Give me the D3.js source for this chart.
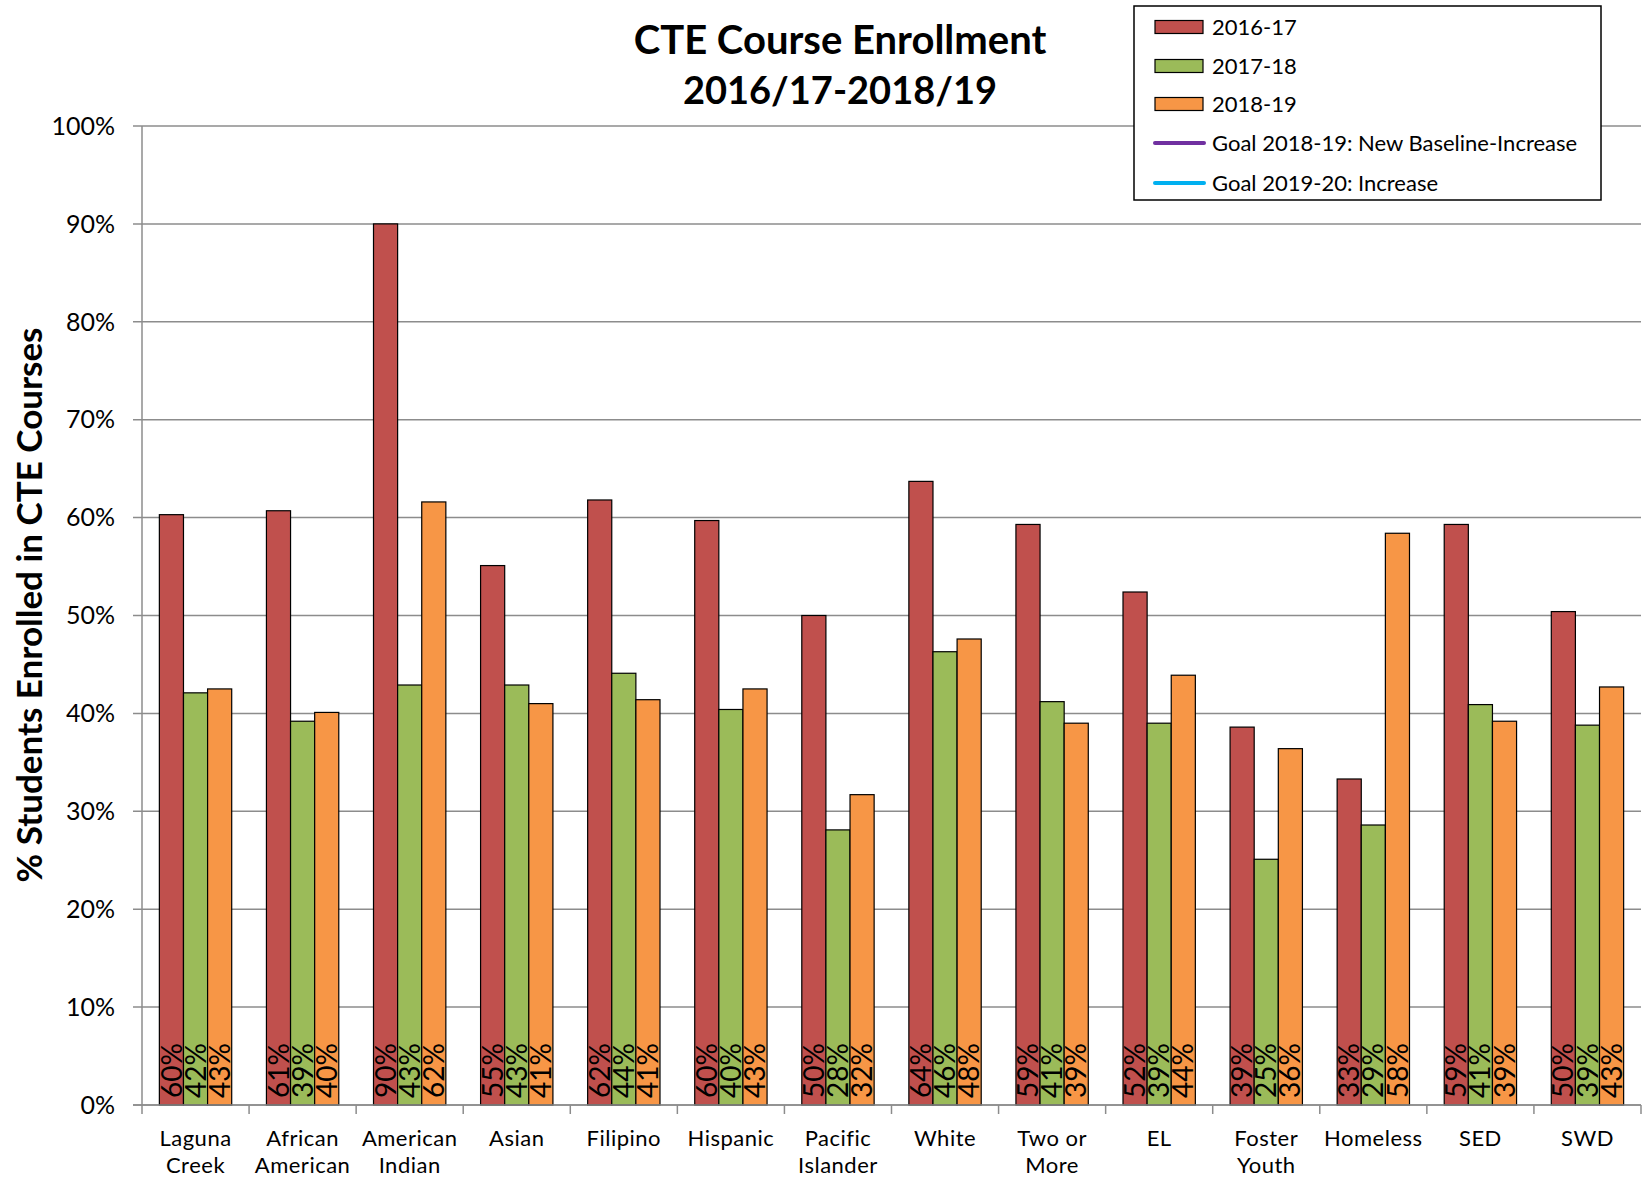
<!DOCTYPE html>
<html>
<head>
<meta charset="utf-8">
<script src="https://cdn.jsdelivr.net/npm/d3@7"></script>
<style>
  body { margin: 0; background: #fff; }
  text { font-family: Lato, "Open Sans", sans-serif; fill: #000; }
</style>
</head>
<body>
<div id="chart"></div>
<script>
// categories and series values (percent)
const categories = [
  ["Laguna", "Creek"], ["African", "American"], ["American", "Indian"], ["Asian"],
  ["Filipino"], ["Hispanic"], ["Pacific", "Islander"], ["White"], ["Two or", "More"],
  ["EL"], ["Foster", "Youth"], ["Homeless"], ["SED"], ["SWD"]
];
const seriesNames = ["2016-17", "2017-18", "2018-19"];
const values2016 = [60.3, 60.7, 90.0, 55.1, 61.8, 59.7, 50.0, 63.7, 59.3, 52.4, 38.6, 33.3, 59.3, 50.4];
const values2017 = [42.1, 39.2, 42.9, 42.9, 44.1, 40.4, 28.1, 46.3, 41.2, 39.0, 25.1, 28.6, 40.9, 38.8];
const values2018 = [42.5, 40.1, 61.6, 41.0, 41.4, 42.5, 31.7, 47.6, 39.0, 43.9, 36.4, 58.4, 39.2, 42.7];
const goalNames = ["Goal 2018-19: New Baseline-Increase", "Goal 2019-20: Increase"];
const yTicks = [0, 10, 20, 30, 40, 50, 60, 70, 80, 90, 100];

const colors = ["#C0504D", "#9BBB59", "#F79646"];
const goalColors = ["#7030A0", "#00B0F0"];

const width = 1646, height = 1180;
const plot = { left: 142, right: 1641, top: 126, bottom: 1105 };

const svg = d3.select("#chart").append("svg")
  .attr("width", width)
  .attr("height", height);

const keys = categories.map(d => d.join(" "));
const allValues = [values2016, values2017, values2018];

const x0 = d3.scaleBand().domain(keys).range([plot.left, plot.right]).padding(0);
const x1 = d3.scaleBand().domain(seriesNames).range([0, x0.bandwidth()])
  .paddingInner(0).paddingOuter(0.72);
const y = d3.scaleLinear().domain([0, 100]).range([plot.bottom, plot.top]);

// gridlines + left ticks
svg.append("g")
  .selectAll("line")
  .data(yTicks)
  .enter()
  .append("line")
  .attr("x1", plot.left - 9)
  .attr("x2", plot.right)
  .attr("y1", d => y(d))
  .attr("y2", d => y(d))
  .attr("stroke", "#8c8c8c")
  .attr("stroke-width", 1.5);

// y axis line
svg.append("line")
  .attr("x1", plot.left).attr("x2", plot.left)
  .attr("y1", plot.top).attr("y2", plot.bottom)
  .attr("stroke", "#8c8c8c").attr("stroke-width", 1.5);

// y tick labels
svg.append("g")
  .selectAll("text")
  .data(yTicks)
  .enter()
  .append("text")
  .attr("x", 115)
  .attr("y", d => y(d))
  .attr("dy", "0.35em")
  .attr("text-anchor", "end")
  .style("font-size", "25px")
  .text(d => d + "%");

// x category tick marks
svg.append("g")
  .selectAll("line")
  .data(keys.concat(["end"]))
  .enter()
  .append("line")
  .attr("x1", (d, i) => plot.left + i * x0.step())
  .attr("x2", (d, i) => plot.left + i * x0.step())
  .attr("y1", plot.bottom)
  .attr("y2", plot.bottom + 9)
  .attr("stroke", "#8c8c8c").attr("stroke-width", 1.5);

// bars
const groups = svg.append("g")
  .selectAll("g")
  .data(keys)
  .enter()
  .append("g")
  .attr("transform", d => "translate(" + x0(d) + ",0)");

groups.selectAll("rect")
  .data((d, i) => seriesNames.map((s, j) => ({ s: s, j: j, v: allValues[j][i] })))
  .enter()
  .append("rect")
  .attr("x", d => x1(d.s))
  .attr("y", d => y(d.v))
  .attr("width", x1.bandwidth())
  .attr("height", d => y(0) - y(d.v))
  .attr("fill", d => colors[d.j])
  .attr("stroke", "#000")
  .attr("stroke-width", 1.2);

// value labels, rotated, at the bottom of each bar
groups.selectAll("text")
  .data((d, i) => seriesNames.map((s, j) => ({ s: s, j: j, v: allValues[j][i] })))
  .enter()
  .append("text")
  .attr("transform", d => "translate(" + (x1(d.s) + x1.bandwidth() / 2) + "," + (plot.bottom - 7) + ") rotate(-90)")
  .attr("dy", "0.36em")
  .style("font-size", "28px")
  .text(d => Math.round(d.v) + "%");

// bottom axis line
svg.append("line")
  .attr("x1", plot.left - 9).attr("x2", plot.right)
  .attr("y1", plot.bottom).attr("y2", plot.bottom)
  .attr("stroke", "#8c8c8c").attr("stroke-width", 1.5);

// x category labels
const catLabels = svg.append("g")
  .selectAll("text")
  .data(categories)
  .enter()
  .append("text")
  .attr("text-anchor", "middle")
  .attr("x", (d, i) => x0(keys[i]) + x0.bandwidth() / 2)
  .attr("y", 1146)
  .style("font-size", "22px")
  .style("letter-spacing", "0.5px");

catLabels.selectAll("tspan")
  .data(d => d)
  .enter()
  .append("tspan")
  .attr("x", function() { return d3.select(this.parentNode).attr("x"); })
  .attr("dy", (d, i) => i === 0 ? 0 : 27)
  .text(d => d);

// title
svg.append("text")
  .attr("x", 840).attr("y", 54)
  .attr("text-anchor", "middle")
  .style("font-size", "40px").style("font-weight", "bold")
  .text("CTE Course Enrollment");
svg.append("text")
  .attr("x", 840).attr("y", 104)
  .attr("text-anchor", "middle")
  .style("font-size", "38px").style("font-weight", "bold")
  .text("2016/17-2018/19");

// y axis title
svg.append("text")
  .attr("transform", "translate(30,605) rotate(-90)")
  .attr("text-anchor", "middle")
  .attr("dy", "0.35em")
  .style("font-size", "35px").style("font-weight", "bold")
  .text("% Students Enrolled in CTE Courses");

// legend
const legend = svg.append("g");
legend.append("rect")
  .attr("x", 1134).attr("y", 6)
  .attr("width", 467).attr("height", 194)
  .attr("fill", "#fff")
  .attr("stroke", "#000").attr("stroke-width", 1.5);

const legendRows = [27, 66, 104, 143, 183];

legend.selectAll("rect.sw")
  .data(seriesNames)
  .enter()
  .append("rect")
  .attr("class", "sw")
  .attr("x", 1155)
  .attr("y", (d, i) => legendRows[i] - 6.5)
  .attr("width", 48).attr("height", 13)
  .attr("fill", (d, i) => colors[i])
  .attr("stroke", "#000").attr("stroke-width", 1.2);

legend.selectAll("line.gl")
  .data(goalNames)
  .enter()
  .append("line")
  .attr("class", "gl")
  .attr("x1", 1155).attr("x2", 1204)
  .attr("y1", (d, i) => legendRows[3 + i])
  .attr("y2", (d, i) => legendRows[3 + i])
  .attr("stroke", (d, i) => goalColors[i])
  .attr("stroke-width", 4)
  .attr("stroke-linecap", "round");

legend.selectAll("text")
  .data(seriesNames.concat(goalNames))
  .enter()
  .append("text")
  .attr("x", 1212)
  .attr("y", (d, i) => legendRows[i])
  .attr("dy", "0.35em")
  .style("font-size", "22px")
  .text(d => d);
</script>
</body>
</html>
